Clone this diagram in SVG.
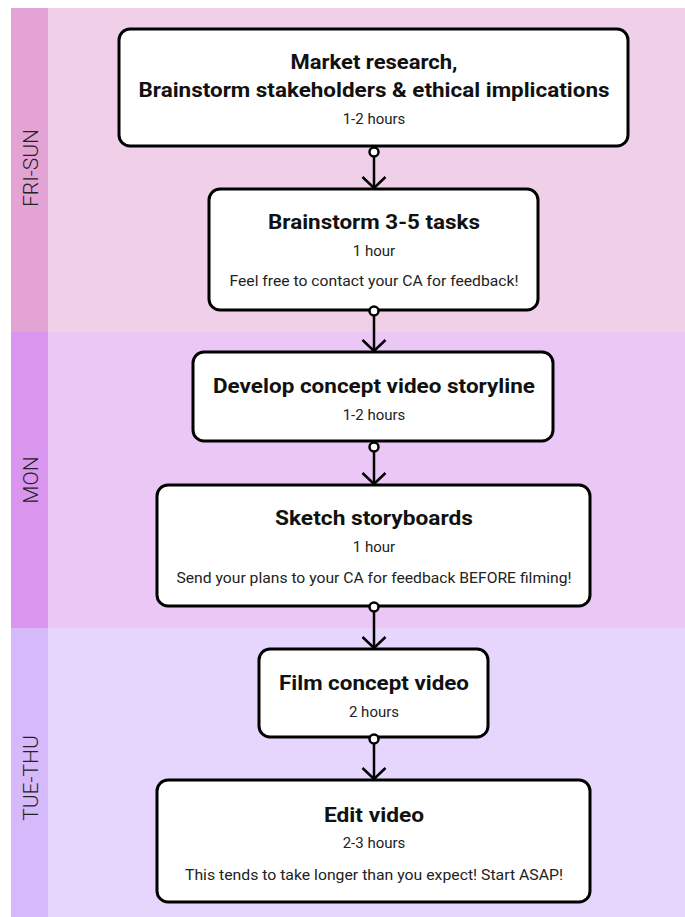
<svg xmlns="http://www.w3.org/2000/svg" width="685" height="917" viewBox="0 0 685 917">
<defs>
<style>
.box{fill:#fff;stroke:#000;stroke-width:3}
.t{font-family:Roboto,"Liberation Sans",sans-serif;font-weight:700;font-size:20px;fill:#111;text-anchor:middle}
.s{font-family:Roboto,"Liberation Sans",sans-serif;font-weight:400;font-size:15px;fill:#222;text-anchor:middle}
.lane{font-family:Roboto,"Liberation Sans",sans-serif;font-weight:300;font-size:21px;fill:#222;text-anchor:middle}
.c{stroke:#000;stroke-width:2.5;fill:none}
.dot{fill:#fff;stroke:#000;stroke-width:2.5}
</style>
<marker id="arr" markerUnits="userSpaceOnUse" markerWidth="30" markerHeight="30" refX="15" refY="15" orient="auto">
<path d="M4,3.5 L15,15 L4,26.5" fill="none" stroke="#000" stroke-width="2.5"/>
</marker>
</defs>
<g id="lanes">
<rect x="11" y="8" width="37" height="324" fill="#E3A4D5"/>
<rect x="48" y="8" width="637" height="324" fill="#F0D0E9"/>
<rect x="11" y="332" width="37" height="296" fill="#DA95EE"/>
<rect x="48" y="332" width="637" height="296" fill="#EBC7F5"/>
<rect x="11" y="628" width="37" height="289" fill="#D5B9FA"/>
<rect x="48" y="628" width="637" height="289" fill="#E6D5FD"/>
<text class="lane" transform="translate(38,168) rotate(-90)">FRI-SUN</text>
<text class="lane" transform="translate(38,480) rotate(-90)">MON</text>
<text class="lane" transform="translate(38,778) rotate(-90)">TUE-THU</text>
</g>
<g id="n1">
<rect class="box" x="119" y="29" width="509" height="117" rx="11"/>
<text class="t" x="374" y="69" textLength="167" lengthAdjust="spacingAndGlyphs">Market research,</text>
<text class="t" x="374" y="97" textLength="471" lengthAdjust="spacingAndGlyphs">Brainstorm stakeholders &amp; ethical implications</text>
<text class="s" x="374" y="124">1-2 hours</text>
</g>
<g id="n2">
<rect class="box" x="209" y="189" width="329" height="121" rx="11"/>
<text class="t" x="374" y="229" textLength="212" lengthAdjust="spacingAndGlyphs">Brainstorm 3-5 tasks</text>
<text class="s" x="374" y="256">1 hour</text>
<text class="s" x="374" y="286" textLength="289" lengthAdjust="spacingAndGlyphs">Feel free to contact your CA for feedback!</text>
</g>
<g id="n3">
<rect class="box" x="193" y="352" width="360" height="89" rx="11"/>
<text class="t" x="374" y="393" textLength="322" lengthAdjust="spacingAndGlyphs">Develop concept video storyline</text>
<text class="s" x="374" y="420">1-2 hours</text>
</g>
<g id="n4">
<rect class="box" x="157" y="485" width="433" height="121" rx="11"/>
<text class="t" x="374" y="525" textLength="198" lengthAdjust="spacingAndGlyphs">Sketch storyboards</text>
<text class="s" x="374" y="552">1 hour</text>
<text class="s" x="374" y="583" textLength="395" lengthAdjust="spacingAndGlyphs">Send your plans to your CA for feedback BEFORE filming!</text>
</g>
<g id="n5">
<rect class="box" x="259" y="649" width="229" height="88" rx="11"/>
<text class="t" x="374" y="690" textLength="190" lengthAdjust="spacingAndGlyphs">Film concept video</text>
<text class="s" x="374" y="717">2 hours</text>
</g>
<g id="n6">
<rect class="box" x="157" y="780" width="433" height="122" rx="11"/>
<text class="t" x="374" y="822" textLength="100" lengthAdjust="spacingAndGlyphs">Edit video</text>
<text class="s" x="374" y="848">2-3 hours</text>
<text class="s" x="374" y="880" textLength="378" lengthAdjust="spacingAndGlyphs">This tends to take longer than you expect! Start ASAP!</text>
</g>
<g id="connectors">
<line class="c" x1="374" y1="157" x2="374" y2="188" marker-end="url(#arr)"/>
<circle class="dot" cx="374" cy="152" r="4.5"/>
<line class="c" x1="374" y1="316" x2="374" y2="351" marker-end="url(#arr)"/>
<circle class="dot" cx="374" cy="311" r="4.5"/>
<line class="c" x1="374" y1="452" x2="374" y2="484" marker-end="url(#arr)"/>
<circle class="dot" cx="374" cy="447" r="4.5"/>
<line class="c" x1="374" y1="612" x2="374" y2="648" marker-end="url(#arr)"/>
<circle class="dot" cx="374" cy="607" r="4.5"/>
<line class="c" x1="374" y1="744" x2="374" y2="779" marker-end="url(#arr)"/>
<circle class="dot" cx="374" cy="739" r="4.5"/>
</g>
</svg>
